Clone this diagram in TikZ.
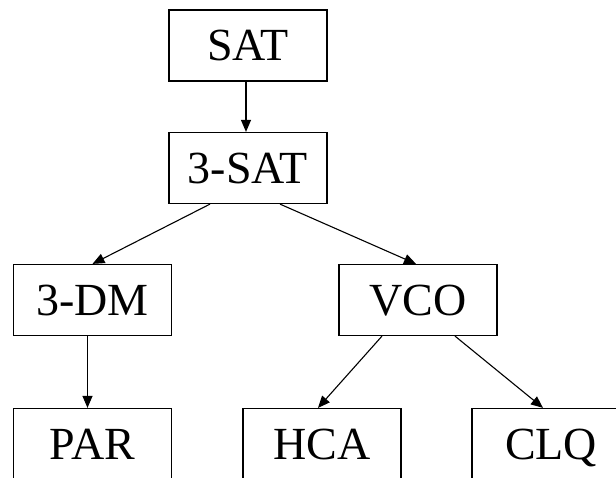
\documentclass[tikz,border=0pt]{standalone}
\usepackage{fontspec}
\setmainfont{Liberation Serif}
\usepackage{tikz}
\usetikzlibrary{arrows.meta}
\pgfdeclarelayer{edgelayer}
\pgfdeclarelayer{nodelayer}
\pgfsetlayers{edgelayer,nodelayer,main}
\tikzstyle{problem}=[rectangle,fill=white,draw=black,line width=1.2pt,minimum width=158pt,minimum height=71pt,inner sep=0pt,text height=30pt,text depth=0pt,font=\fontsize{46}{50}\selectfont]
\tikzstyle{reduction}=[-{Triangle[length=12pt,width=10pt]},draw=black,line width=1.1pt]

\begin{document}
\begin{tikzpicture}[x=1pt, y=-1pt]
	\useasboundingbox (0, 0) rectangle (616, 477);
	\begin{pgfonlayer}{nodelayer}
		\node [style=problem] (0) at (248, 45.5) {SAT};
		\node [style=problem] (1) at (248, 168) {3-SAT};
		\node [style=problem] (2) at (92.5, 300) {3-DM};
		\node [style=problem] (3) at (418, 300) {VCO};
		\node [style=problem] (4) at (92.5, 444) {PAR};
		\node [style=problem] (5) at (322, 444) {HCA};
		\node [style=problem] (6) at (551, 444) {CLQ};
	\end{pgfonlayer}
	\begin{pgfonlayer}{edgelayer}
		\draw [style=reduction] ([xshift=-2pt]0.south) to ([xshift=-2pt]1.north);
		\draw [style=reduction] ([xshift=-38pt]1.south) to (2.north);
		\draw [style=reduction] ([xshift=32pt]1.south) to ([xshift=-2pt]3.north);
		\draw [style=reduction] ([xshift=-5pt]2.south) to ([xshift=-5pt]4.north);
		\draw [style=reduction] ([xshift=-36pt]3.south) to ([xshift=-4pt]5.north);
		\draw [style=reduction] ([xshift=37pt]3.south) to ([xshift=-8pt]6.north);
	\end{pgfonlayer}
\end{tikzpicture}
\end{document}
